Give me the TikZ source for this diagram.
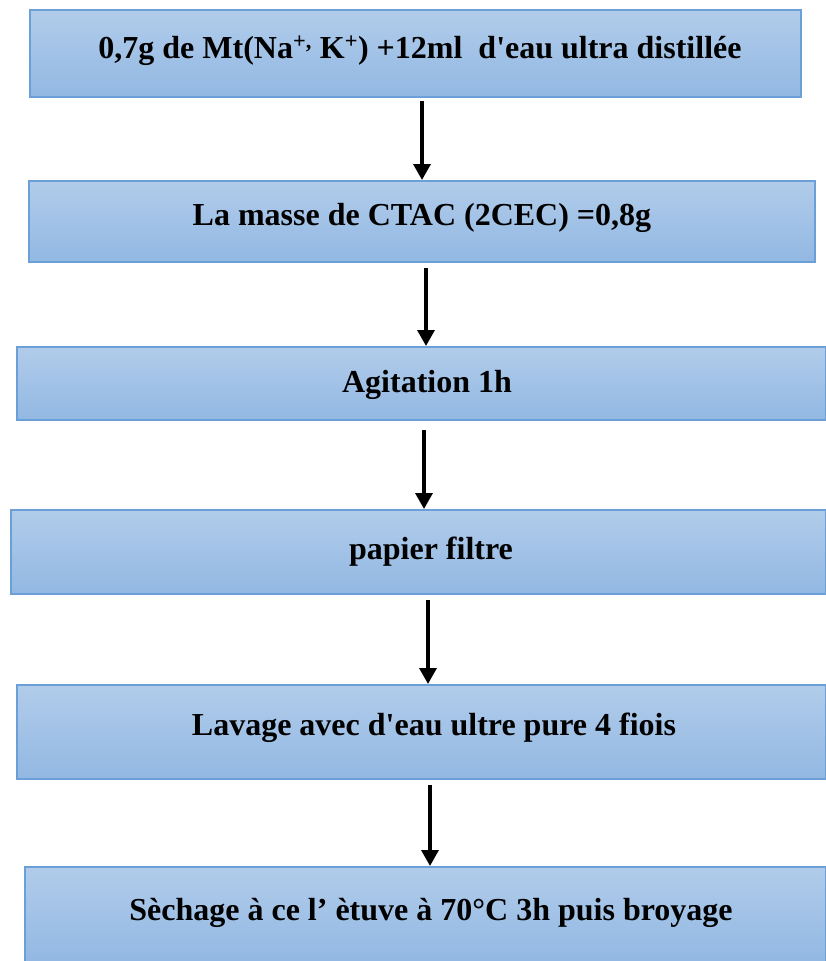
\documentclass[tikz,border=0pt]{standalone}
\usepackage{fontspec}
\setmainfont{Liberation Serif}
\usetikzlibrary{arrows.meta}
\definecolor{boxtop}{HTML}{B1CCEA}
\definecolor{boxbot}{HTML}{92B8E3}
\definecolor{boxline}{HTML}{6A9FD8}
\tikzset{
  stepbox/.style={draw=boxline, line width=1.3pt, top color=boxtop, bottom color=boxbot},
  steptext/.style={font=\fontsize{32}{38}\selectfont\bfseries, inner sep=0pt, anchor=base},
  flowarrow/.style={line width=3.4pt, -{Triangle[width=17pt,length=16pt]}, shorten >=1pt, shorten <=2pt}
}
\begin{document}
\begin{tikzpicture}[x=1pt,y=-1pt]
\useasboundingbox (0,0) rectangle (825,961);
% boxes
\path[stepbox] (30,10) rectangle (801,97);
\path[stepbox] (29,181) rectangle (815,262);
\path[stepbox] (17,347) rectangle (826,420);
\path[stepbox] (11,510) rectangle (826,594);
\path[stepbox] (17,685) rectangle (826,779);
\path[stepbox] (25,867) rectangle (826,962);
% texts
\node[steptext] (t1) at (420,58) {0,7g de Mt(Na\textsuperscript{+,} K\textsuperscript{+}) +12ml\ \ d\textquotesingle eau ultra distillée};
\node[steptext] (t2) at (422,225) {La masse de CTAC (2CEC) =0,8g};
\node[steptext] (t3) at (427,392) {Agitation 1h};
\node[steptext] (t4) at (431,559) {papier filtre};
\node[steptext] (t5) at (434,735) {Lavage avec d\textquotesingle eau ultre pure 4 fiois};
\node[steptext] (t6) at (431,920) {Sèchage à ce l’ ètuve à 70°C 3h puis broyage};
% arrow anchors
\coordinate (a1s) at (422,99);  \coordinate (a1e) at (422,181);
\coordinate (a2s) at (426,266); \coordinate (a2e) at (426,347);
\coordinate (a3s) at (424,428); \coordinate (a3e) at (424,510);
\coordinate (a4s) at (428,598); \coordinate (a4e) at (428,685);
\coordinate (a5s) at (430,783); \coordinate (a5e) at (430,867);
\draw[flowarrow] (a1s) -- (a1e);
\draw[flowarrow] (a2s) -- (a2e);
\draw[flowarrow] (a3s) -- (a3e);
\draw[flowarrow] (a4s) -- (a4e);
\draw[flowarrow] (a5s) -- (a5e);
\end{tikzpicture}
\end{document}
